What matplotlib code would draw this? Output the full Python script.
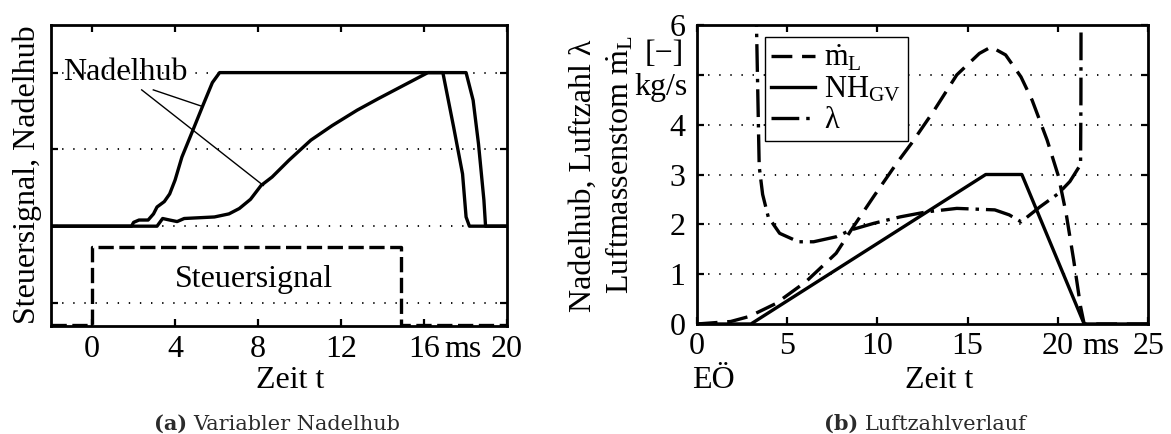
import matplotlib
matplotlib.use("Agg")
import matplotlib.pyplot as plt

plt.rcParams['font.family'] = ['Liberation Serif', 'DejaVu Serif']
plt.rcParams['font.size'] = 23
plt.rcParams['mathtext.fontset'] = 'custom'
plt.rcParams['mathtext.rm'] = 'Liberation Serif'
plt.rcParams['mathtext.it'] = 'Liberation Serif:italic'
plt.rcParams['lines.scale_dashes'] = False

# ---------------- data (a) ----------------
t_fast = [-2, 1.9, 2.0, 2.26, 2.7, 2.96, 3.13, 3.48, 3.74, 4.0, 4.33, 4.86, 5.37, 5.8, 6.15,
          18.04, 18.38, 18.64, 18.9, 18.98, 20]
nh_fast = [0, 0, 0.05, 0.08, 0.08, 0.16, 0.25, 0.32, 0.42, 0.60, 0.90, 1.25, 1.59, 1.87, 2.0,
           2.0, 1.64, 1.07, 0.34, 0, 0]
t_slow = [-2, 3.0, 3.13, 3.4, 3.74, 4.1, 4.44, 5.9, 6.6, 7.1, 7.64, 8.15, 8.68, 9.5, 10.55,
          11.58, 12.78, 13.8, 15.0, 16.2, 16.92, 17.44, 17.87, 18.04, 18.2, 20]
nh_slow = [0, 0, 0.0, 0.10, 0.08, 0.06, 0.10, 0.12, 0.16, 0.23, 0.35, 0.53, 0.64, 0.86, 1.12,
           1.31, 1.51, 1.66, 1.83, 2.0, 2.0, 1.29, 0.68, 0.12, 0, 0]
t_sig = [-2, 0, 0, 14.9, 14.9, 20]
sig = [-1.29, -1.29, -0.27, -0.27, -1.29, -1.29]
xticks_a = [0, 4, 8, 12, 16, 20]
xticklabels_a = ['0', '4', '8', '12', '16', '20']

# ---------------- data (b) ----------------
t_nh = [0, 3.0, 16.0, 18.0, 21.45, 25]
nh_gv = [0, 0, 3, 3, 0, 0]
t_ml = [0, 1.88, 2.9, 4.38, 6.05, 7.72, 8.56, 9.8, 11.06, 11.9, 13.15, 14.4, 15.65, 16.3,
        17.1, 17.95, 18.57, 19.4, 20.03, 20.45, 20.87, 21.25, 21.45, 25]
ml = [0, 0.05, 0.15, 0.41, 0.85, 1.42, 1.89, 2.56, 3.22, 3.63, 4.29, 5.0, 5.43, 5.56,
      5.4, 4.96, 4.49, 3.69, 2.96, 2.22, 1.28, 0.35, 0, 0]
t_lam = [3.28, 3.31, 3.46, 3.65, 3.96, 4.59, 5.63, 6.47, 7.72, 8.56, 9.8, 11.27, 12.73, 14.4,
         16.5, 17.3, 17.96, 19.0, 20.03, 20.66, 21.25, 21.27, 21.28]
lam = [7, 6, 3.16, 2.6, 2.15, 1.82, 1.65, 1.65, 1.75, 1.89, 2.02, 2.15, 2.25, 2.32,
       2.29, 2.19, 2.05, 2.35, 2.62, 2.86, 3.2, 4.5, 7]
xticks_b = [0, 5, 10, 15, 20, 25]
xticklabels_b = ['0', '5', '10', '15', '20', '25']
yticks_b = [0, 1, 2, 3, 4, 5, 6]
yticklabels_b = ['0', '1', '2', '3', '4', '', '6']

LW = 2.4
SPINE = 2.0
GRID = dict(color='black', linestyle=(0, (1, 7)), linewidth=1.3)
W, H = 1171, 434


def style_axes(ax, xpad, ypad):
    ax.tick_params(which='major', direction='in', length=5, width=1.6,
                   top=True, right=True)
    ax.tick_params(axis='x', which='both', pad=xpad)
    ax.tick_params(axis='y', which='both', pad=ypad)
    ax.tick_params(which='minor', length=0, top=False, right=False)
    for s in ax.spines.values():
        s.set_linewidth(SPINE)


fig = plt.figure(figsize=(W / 100, H / 100), dpi=100)

# ================= panel (a) =================
axa = fig.add_axes([50.7 / W, 1 - 326 / H, 456 / W, 301 / H])
axa.set_xlim(-2, 20)
axa.set_ylim(-1.3, 2.62)
for yg in [-1, 0, 1, 2]:
    axa.axhline(yg, **GRID, zorder=0)
axa.plot(t_sig, sig, color='black', lw=LW, dashes=(11, 4))
axa.plot(t_slow, nh_slow, color='black', lw=LW, solid_joinstyle='round')
axa.plot(t_fast, nh_fast, color='black', lw=LW, solid_joinstyle='round')
axa.set_xticks(xticks_a)
axa.set_xticklabels(xticklabels_a)
axa.set_xticks([17.9], minor=True)
axa.set_xticklabels(['ms'], minor=True)
axa.set_yticks([-1, 0, 1, 2])
axa.set_yticklabels([])
style_axes(axa, 6.5, 8)
axa.text(0.525, (326 - 388) / 301, 'Zeit t', ha='center', va='baseline',
         transform=axa.transAxes)
axa.text(1.62, 2.0, 'Nadelhub', ha='center', va='center')
axa.plot([2.95, 5.31], [1.775, 1.56], color='black', lw=1.0)
axa.plot([2.39, 8.26], [1.775, 0.53], color='black', lw=1.0)
axa.text(7.81, -0.70, 'Steuersignal', ha='center', va='center')
fig.text(27 / W, 1 - 175 / H, 'Steuersignal, Nadelhub', rotation=90,
         ha='center', va='center')

# ================= panel (b) =================
axb = fig.add_axes([696.7 / W, 1 - 324 / H, 451.6 / W, 299 / H])
axb.set_xlim(0, 25)
axb.set_ylim(0, 6)
for yg in [1, 2, 3, 4, 5]:
    axb.axhline(yg, **GRID, zorder=0)
l1, = axb.plot(t_ml, ml, color='black', lw=LW, dashes=(15, 7))
l2, = axb.plot(t_nh, nh_gv, color='black', lw=LW)
l3, = axb.plot(t_lam, lam, color='black', lw=LW, dashes=(20, 5, 2.5, 5))
axb.set_xticks(xticks_b)
axb.set_xticklabels(xticklabels_b)
axb.set_xticks([22.4], minor=True)
axb.set_xticklabels(['ms'], minor=True)
axb.set_yticks(yticks_b)
axb.set_yticklabels(yticklabels_b)
style_axes(axb, 5.5, 8)
axb.text(-0.01, (324 - 388) / 299, 'EÖ', ha='left', va='baseline', transform=axb.transAxes)
axb.text(0.537, (324 - 388) / 299, 'Zeit t', ha='center', va='baseline',
         transform=axb.transAxes)
ytr = axb.get_yaxis_transform()
axb.text(-(696.7 - 664) / 451.6, 5.40, '[−]', ha='center', va='center', transform=ytr)
axb.text(-(696.7 - 688) / 451.6, 4.74, 'kg/s', ha='right', va='center', transform=ytr)
fig.text(583 / W, 1 - 176 / H, 'Nadelhub, Luftzahl λ', rotation=90, ha='center', va='center')
fig.text(620 / W, 1 - 165 / H, r'Luftmassenstom $\dot{\mathrm{m}}_\mathrm{L}$', rotation=90,
         ha='center', va='center')
leg = axb.legend([l1, l2, l3],
                 [r'$\dot{\mathrm{m}}_\mathrm{L}$', r'$\mathrm{NH}_\mathrm{GV}$', 'λ'],
                 loc='upper left', bbox_to_anchor=(0.151, 0.959), borderaxespad=0,
                 fancybox=False, framealpha=1, edgecolor='black', handlelength=1.45,
                 handletextpad=0.3, labelspacing=0.05, borderpad=0.2, fontsize=22)
leg.get_frame().set_linewidth(1.0)

# captions
CAP = dict(family='DejaVu Serif', fontsize=15, color='#2b2b2b', va='baseline')
fig.text(187 / W, 1 - 430 / H, '(a)', ha='right', weight='bold', **CAP)
fig.text(193 / W, 1 - 430 / H, 'Variabler Nadelhub', ha='left', **CAP)
fig.text(858 / W, 1 - 430 / H, '(b)', ha='right', weight='bold', **CAP)
fig.text(865 / W, 1 - 430 / H, 'Luftzahlverlauf', ha='left', **CAP)

fig.savefig('out.png', dpi=100)
